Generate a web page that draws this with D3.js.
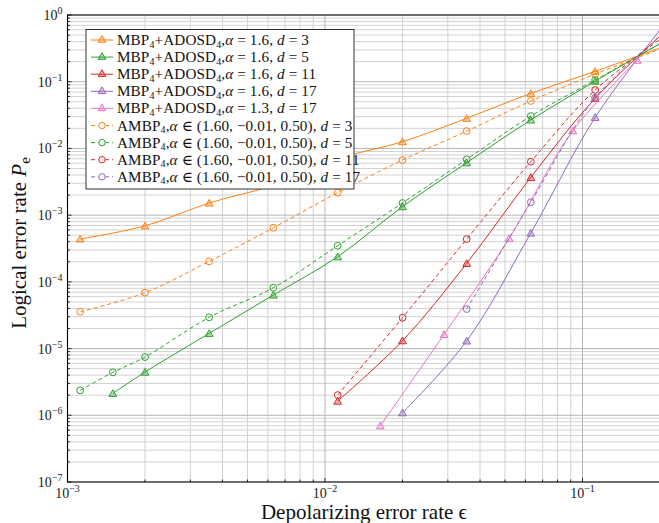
<!DOCTYPE html>
<html>
<head>
<meta charset="utf-8">
<script src="https://cdn.jsdelivr.net/npm/d3@7"></script>
<style>
  html, body { margin: 0; padding: 0; background: #fff; }
  svg { display: block; font-family: "Liberation Serif", "DejaVu Serif", serif; }
</style>
</head>
<body>
<div id="chart"></div>
<script>
// physical error rates (x values) shared by most curves, null where a curve has no point
const epsGrid = [0.00112, 0.0015, 0.002, 0.00355, 0.0063, 0.0112, 0.02, 0.0355, 0.063, 0.112, 0.2];
// x values of the alpha = 1.3 curve
const epsAlpha13 = [0.0164, 0.029, 0.0519, 0.0917, 0.163];

// logical error rates
const mbpD3 = [4.4e-4, null, 6.9e-4, 1.52e-3, 2.8e-3, 7.0e-3, 1.26e-2, 2.83e-2, 6.7e-2, 0.143, 0.32];
const mbpD5 = [null, 2.13e-6, 4.44e-6, 1.69e-5, 6.34e-5, 2.38e-4, 1.34e-3, 6.1e-3, 2.67e-2, 0.102, 0.375];
const mbpD11 = [null, null, null, null, null, 1.63e-6, 1.31e-5, 1.89e-4, 3.68e-3, 5.64e-2, 0.48];
const mbpD17 = [null, null, null, null, null, null, 1.09e-6, 1.3e-5, 5.39e-4, 2.92e-2, 0.6];
const mbpA13D17 = [6.97e-7, 1.63e-5, 4.49e-4, 1.84e-2, 0.21];
const ambpD3 = [3.56e-5, null, 6.87e-5, 2.03e-4, 6.47e-4, 2.17e-3, 6.7e-3, 1.82e-2, 5.14e-2, 0.13, 0.31];
const ambpD5 = [2.36e-6, 4.4e-6, 7.46e-6, 2.94e-5, 8.17e-5, 3.48e-4, 1.52e-3, 6.86e-3, 3.06e-2, 0.106, 0.37];
const ambpD11 = [null, null, null, null, null, 2.01e-6, 2.9e-5, 4.38e-4, 6.32e-3, 7.51e-2, 0.43];
const ambpD17 = [null, null, null, null, null, null, null, 3.91e-5, 1.56e-3, 5.76e-2, 0.48];

const xTickExps = [-3, -2, -1];
const yTickExps = [0, -1, -2, -3, -4, -5, -6, -7];

const series = [
  { kind: "mbp", alpha: "1.6", d: "3", color: "#ff7f0e", eps: epsGrid, pe: mbpD3 },
  { kind: "mbp", alpha: "1.6", d: "5", color: "#2ca02c", eps: epsGrid, pe: mbpD5 },
  { kind: "mbp", alpha: "1.6", d: "11", color: "#d62728", eps: epsGrid, pe: mbpD11 },
  { kind: "mbp", alpha: "1.6", d: "17", color: "#9467bd", eps: epsGrid, pe: mbpD17 },
  { kind: "mbp", alpha: "1.3", d: "17", color: "#e377c2", eps: epsAlpha13, pe: mbpA13D17 },
  { kind: "ambp", d: "3", color: "#ff7f0e", eps: epsGrid, pe: ambpD3 },
  { kind: "ambp", d: "5", color: "#2ca02c", eps: epsGrid, pe: ambpD5 },
  { kind: "ambp", d: "11", color: "#d62728", eps: epsGrid, pe: ambpD11 },
  { kind: "ambp", d: "17", color: "#9467bd", eps: epsGrid, pe: ambpD17 }
];

const width = 659, height = 523;
const plot = { left: 67.5, right: 660, top: 15, bottom: 482 };

const x = d3.scaleLog().domain([1e-3, 0.2]).range([plot.left, plot.right]);
const y = d3.scaleLog().domain([1e-7, 1]).range([plot.bottom, plot.top]);

const svg = d3.select("#chart").append("svg")
  .attr("width", width)
  .attr("height", height);

svg.append("defs").append("clipPath").attr("id", "plotClip")
  .append("rect")
  .attr("x", plot.left).attr("y", plot.top)
  .attr("width", plot.right - plot.left).attr("height", plot.bottom - plot.top);

// grid lines (minor first, then major)
const xMinor = [], yMinor = [];
for (let e = -3; e < 0; e++) for (let m = 2; m <= 9; m++) if (m * 10 ** e <= 0.2) xMinor.push(m * 10 ** e);
for (let e = -7; e < 0; e++) for (let m = 2; m <= 9; m++) yMinor.push(m * 10 ** e);

const grid = svg.append("g").attr("fill", "none");
grid.selectAll(".xminor").data(xMinor).join("line")
  .attr("x1", d => x(d)).attr("x2", d => x(d))
  .attr("y1", plot.top).attr("y2", plot.bottom)
  .attr("stroke", "#d2d2d2").attr("stroke-width", 1);
grid.selectAll(".yminor").data(yMinor).join("line")
  .attr("x1", plot.left).attr("x2", plot.right)
  .attr("y1", d => y(d)).attr("y2", d => y(d))
  .attr("stroke", "#d2d2d2").attr("stroke-width", 1);
grid.selectAll(".xmajor").data(xTickExps).join("line")
  .attr("x1", d => x(10 ** d)).attr("x2", d => x(10 ** d))
  .attr("y1", plot.top).attr("y2", plot.bottom)
  .attr("stroke", "#b5b5b5").attr("stroke-width", 1);
grid.selectAll(".ymajor").data(yTickExps).join("line")
  .attr("x1", plot.left).attr("x2", plot.right)
  .attr("y1", d => y(10 ** d)).attr("y2", d => y(10 ** d))
  .attr("stroke", "#b5b5b5").attr("stroke-width", 1);

// curves
const line = d3.line()
  .defined(d => d.pe != null)
  .x(d => x(d.eps)).y(d => y(d.pe))
  .curve(d3.curveCatmullRom);

const tri = d3.symbol(d3.symbolTriangle).size(26);

const plotG = svg.append("g").attr("clip-path", "url(#plotClip)");

series.forEach(s => {
  const pts = s.eps.map((e, i) => ({ eps: e, pe: s.pe[i] })).filter(p => p.pe != null);
  // markers sitting on the cut-off right border are not shown
  const shown = pts.filter(p => x(p.eps) < width - 3);
  const g = plotG.append("g");
  g.append("path")
    .datum(pts)
    .attr("d", line)
    .attr("fill", "none")
    .attr("stroke", s.color)
    .attr("stroke-width", 1)
    .attr("stroke-dasharray", s.kind === "ambp" ? "4,3" : null);
  if (s.kind === "mbp") {
    g.selectAll("path.m").data(shown).join("path")
      .attr("class", "m")
      .attr("transform", d => `translate(${x(d.eps)},${y(d.pe) + 0.8})`)
      .attr("d", tri)
      .attr("fill", s.color).attr("fill-opacity", 0.35)
      .attr("stroke", s.color).attr("stroke-width", 1);
  } else {
    g.selectAll("circle").data(shown).join("circle")
      .attr("cx", d => x(d.eps)).attr("cy", d => y(d.pe))
      .attr("r", 3.4)
      .attr("fill", "none")
      .attr("stroke", s.color).attr("stroke-width", 1);
  }
});

// frame
svg.append("path")
  .attr("d", `M${plot.right},${plot.top}H${plot.left}V${plot.bottom}H${plot.right}`)
  .attr("fill", "none").attr("stroke", "#000").attr("stroke-width", 1.1);

// small inward ticks
const ticks = svg.append("g").attr("stroke", "#000").attr("stroke-width", 0.8);
ticks.selectAll(".xt").data(xTickExps).join("line")
  .attr("x1", d => x(10 ** d)).attr("x2", d => x(10 ** d))
  .attr("y1", plot.bottom).attr("y2", plot.bottom - 4);
ticks.selectAll(".xtm").data(xMinor).join("line")
  .attr("x1", d => x(d)).attr("x2", d => x(d))
  .attr("y1", plot.bottom).attr("y2", plot.bottom - 2.5);
ticks.selectAll(".yt").data(yTickExps).join("line")
  .attr("x1", plot.left).attr("x2", plot.left + 4)
  .attr("y1", d => y(10 ** d)).attr("y2", d => y(10 ** d));
ticks.selectAll(".ytm").data(yMinor).join("line")
  .attr("x1", plot.left).attr("x2", plot.left + 2.5)
  .attr("y1", d => y(d)).attr("y2", d => y(d));

// tick labels as 10^e
function powerLabel(sel, e) {
  sel.append("tspan").text("10");
  sel.append("tspan").attr("dy", -6).attr("font-size", 10)
    .text(e === 0 ? "0" : "\u2212" + Math.abs(e));
}

svg.append("g").selectAll("text").data(yTickExps).join("text")
  .attr("x", plot.left - 5)
  .attr("y", d => y(10 ** d) + 5)
  .attr("text-anchor", "end")
  .attr("font-size", 14)
  .attr("fill", "#222")
  .each(function (d) { powerLabel(d3.select(this), d); });

svg.append("g").selectAll("text").data(xTickExps).join("text")
  .attr("x", d => x(10 ** d))
  .attr("y", plot.bottom + 16)
  .attr("text-anchor", "middle")
  .attr("font-size", 14)
  .attr("fill", "#222")
  .each(function (d) { powerLabel(d3.select(this), d); });

// axis titles
svg.append("text")
  .attr("x", 364).attr("y", 519)
  .attr("text-anchor", "middle")
  .attr("font-size", 21)
  .attr("fill", "#111")
  .text("Depolarizing error rate \u03F5");

const yTitle = svg.append("text")
  .attr("transform", "translate(26,243) rotate(-90)")
  .attr("text-anchor", "middle")
  .attr("font-size", 21)
  .attr("fill", "#111");
yTitle.append("tspan").text("Logical error rate ");
yTitle.append("tspan").attr("font-style", "italic").text("P");
yTitle.append("tspan").attr("dy", 4).attr("font-size", 15).text("e");

// legend
const legend = { x: 86, y: 29.5, w: 268, h: 159.5, row: 17.1, first: 40 };
const lg = svg.append("g");
lg.append("rect")
  .attr("x", legend.x).attr("y", legend.y)
  .attr("width", legend.w).attr("height", legend.h)
  .attr("fill", "#fff").attr("stroke", "#333").attr("stroke-width", 1);

series.forEach((s, i) => {
  const cy = legend.first + i * legend.row;
  const row = lg.append("g");
  row.append("line")
    .attr("x1", 91).attr("x2", 113).attr("y1", cy).attr("y2", cy)
    .attr("stroke", s.color).attr("stroke-width", 1)
    .attr("stroke-dasharray", s.kind === "ambp" ? "4,3" : null);
  if (s.kind === "mbp") {
    row.append("path")
      .attr("transform", `translate(102,${cy})`)
      .attr("d", tri)
      .attr("fill", s.color).attr("fill-opacity", 0.35)
      .attr("stroke", s.color);
  } else {
    row.append("circle").attr("cx", 102).attr("cy", cy).attr("r", 3.2)
      .attr("fill", "#fff").attr("stroke", s.color);
  }
  const t = row.append("text")
    .attr("x", 117).attr("y", cy + 5)
    .attr("font-size", 15.2)
    .attr("letter-spacing", 0.12)
    .attr("fill", "#111");
  if (s.kind === "mbp") {
    t.append("tspan").text("MBP");
    t.append("tspan").attr("dy", 2.5).attr("font-size", 10).text("4");
    t.append("tspan").attr("dy", -2.5).text("+ADOSD");
    t.append("tspan").attr("dy", 2.5).attr("font-size", 10).text("4");
    t.append("tspan").attr("dy", -2.5).text(",");
    t.append("tspan").attr("font-style", "italic").text("\u03B1");
    t.append("tspan").text(` = ${s.alpha}, `);
  } else {
    t.append("tspan").text("AMBP");
    t.append("tspan").attr("dy", 2.5).attr("font-size", 10).text("4");
    t.append("tspan").attr("dy", -2.5).text(",");
    t.append("tspan").attr("font-style", "italic").text("\u03B1");
    t.append("tspan").text(" \u2208 (1.60, \u22120.01, 0.50), ");
  }
  t.append("tspan").attr("font-style", "italic").text("d");
  t.append("tspan").text(` = ${s.d}`);
});
</script>
</body>
</html>
